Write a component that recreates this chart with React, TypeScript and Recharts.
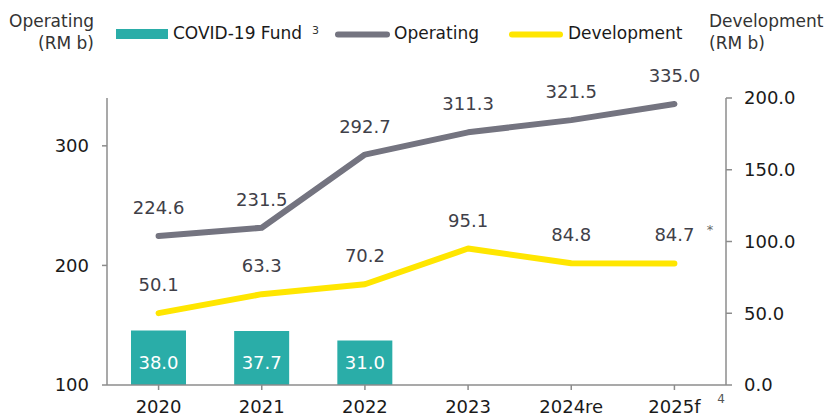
import React from 'react';
import { ComposedChart, Bar, Line, XAxis, YAxis, LabelList, Customized } from 'recharts';

const years = ['2020', '2021', '2022', '2023', '2024re', '2025f'];
const covidFund: (number | null)[] = [38.0, 37.7, 31.0, null, null, null];
const operating = [224.6, 231.5, 292.7, 311.3, 321.5, 335.0];
const development = [50.1, 63.3, 70.2, 95.1, 84.8, 84.7];
const leftTicks = [100, 200, 300];
const rightTicks = [0, 50, 100, 150, 200];

const data = years.map((y, i) => ({
  year: y,
  covid: covidFund[i],
  operating: operating[i],
  development: development[i],
}));

const FONT = '"DejaVu Sans", Verdana, sans-serif';
const TEAL = '#2AADA8';
const GRAY = '#747480';
const YELLOW = '#FFE600';
const AXIS = '#8c8c8c';

const LineLabel = (props: any) => {
  const { x, y, value } = props;
  if (value == null) return null;
  return (
    <text x={x} y={y - 22} textAnchor="middle" fontSize={18} fill="#404048" fontFamily={FONT}>
      {Number(value).toFixed(1)}
    </text>
  );
};

const BarLabel = (props: any) => {
  const { x, y, width, height, value } = props;
  if (value == null) return null;
  return (
    <text
      x={x + width / 2}
      y={y + height - 16}
      textAnchor="middle"
      fontSize={18}
      fill="#ffffff"
      fontFamily={FONT}
    >
      {Number(value).toFixed(1)}
    </text>
  );
};

const Overlay = () => (
  <g fontFamily={FONT}>
    <text x={94} y={27} textAnchor="end" fontSize={17} fill="#333">Operating</text>
    <text x={94} y={49} textAnchor="end" fontSize={17} fill="#333">(RM b)</text>
    <text x={709} y={27} textAnchor="start" fontSize={17} fill="#333">Development</text>
    <text x={709} y={49} textAnchor="start" fontSize={17} fill="#333">(RM b)</text>

    <rect x={116} y={29} width={52} height={10} fill={TEAL} />
    <text x={173} y={39} fontSize={17} fill="#1a1a1a">COVID-19 Fund</text>
    <text x={312} y={34} fontSize={11} fill="#333">3</text>

    <line x1={338} y1={34.5} x2={387} y2={34.5} stroke={GRAY} strokeWidth={6} strokeLinecap="round" />
    <text x={394} y={39} fontSize={17} fill="#1a1a1a">Operating</text>

    <line x1={512} y1={34.5} x2={560} y2={34.5} stroke={YELLOW} strokeWidth={6} strokeLinecap="round" />
    <text x={568} y={39} fontSize={17} fill="#1a1a1a">Development</text>

    <text x={710} y={234} fontSize={13} fill="#666" textAnchor="middle">*</text>
    <text x={721} y={403} fontSize={12} fill="#555" textAnchor="middle">4</text>
  </g>
);

export default function App() {
  return (
    <div style={{ position: 'absolute', left: 0, top: 0, width: 833, height: 416, background: '#fff' }}>
      <ComposedChart
        width={833}
        height={416}
        data={data}
        margin={{ top: 98, right: 0, bottom: 0, left: 0 }}
        style={{ fontFamily: FONT }}
      >
        <XAxis
          dataKey="year"
          height={31}
          tickSize={5}
          tickMargin={10}
          axisLine={{ stroke: AXIS, strokeWidth: 1.5 }}
          tickLine={{ stroke: AXIS, strokeWidth: 1.5 }}
          tick={{ fontSize: 18, fill: '#1a1a1a', fontFamily: FONT }}
          interval={0}
        />
        <YAxis
          yAxisId="left"
          orientation="left"
          width={107}
          domain={[100, 340]}
          ticks={leftTicks}
          allowDataOverflow
          tickSize={5}
          tickMargin={13}
          axisLine={{ stroke: AXIS, strokeWidth: 1.5 }}
          tickLine={{ stroke: AXIS, strokeWidth: 1.5 }}
          tick={{ fontSize: 18, fill: '#1a1a1a', fontFamily: FONT }}
        />
        <YAxis
          yAxisId="right"
          orientation="right"
          width={107}
          domain={[0, 200]}
          ticks={rightTicks}
          allowDataOverflow
          tickSize={6}
          tickMargin={12}
          tickFormatter={(v: number) => v.toFixed(1)}
          axisLine={{ stroke: AXIS, strokeWidth: 1.5 }}
          tickLine={{ stroke: AXIS, strokeWidth: 1.5 }}
          tick={{ fontSize: 18, fill: '#1a1a1a', fontFamily: FONT }}
        />
        <Bar dataKey="covid" yAxisId="right" fill={TEAL} barSize={55} isAnimationActive={false}>
          <LabelList dataKey="covid" content={BarLabel} />
        </Bar>
        <Line
          dataKey="operating"
          yAxisId="left"
          stroke={GRAY}
          strokeWidth={6}
          strokeLinecap="round"
          strokeLinejoin="round"
          dot={false}
          activeDot={false}
          isAnimationActive={false}
        >
          <LabelList dataKey="operating" content={LineLabel} />
        </Line>
        <Line
          dataKey="development"
          yAxisId="right"
          stroke={YELLOW}
          strokeWidth={6}
          strokeLinecap="round"
          strokeLinejoin="round"
          dot={false}
          activeDot={false}
          isAnimationActive={false}
        >
          <LabelList dataKey="development" content={LineLabel} />
        </Line>
        <Customized component={Overlay} />
      </ComposedChart>
    </div>
  );
}
